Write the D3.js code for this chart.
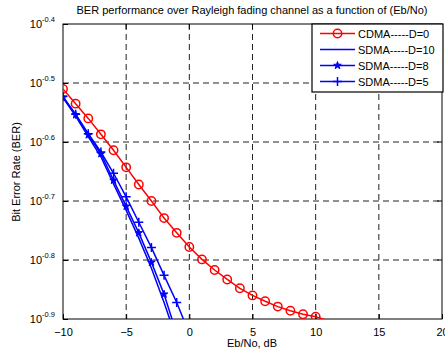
<!DOCTYPE html>
<html>
<head>
<meta charset="utf-8">
<script src="https://cdn.jsdelivr.net/npm/d3@7"></script>
<style>
  body { margin: 0; background: #fff; }
  svg { display: block; font-family: 'Liberation Sans', Arial, sans-serif; }
</style>
</head>
<body>
<div id="chart"></div>
<script>
// Eb/No in dB
const ebnoCdma = d3.range(-10, 12, 1)
const ebnoSdma10 = [-10, -9, -8, -7, -6, -5, -4, -3, -2, -1]
const ebnoSdma8 = [-10, -9, -8, -7, -6, -5, -4, -3, -2, -1]
const ebnoSdma5 = [-10, -9, -8, -7, -6, -5, -4, -3, -2, -1, 0]

// BER, as log10 exponents
const cdmaLog = [-0.510, -0.535, -0.560, -0.587, -0.614, -0.643, -0.672, -0.700, -0.729, -0.754,
  -0.778, -0.799, -0.817, -0.833, -0.848, -0.860, -0.870, -0.879, -0.886, -0.892, -0.896, -0.903]
const sdma10Log = [-0.525, -0.556, -0.591, -0.625, -0.671, -0.716, -0.763, -0.814, -0.872, -0.935]
const sdma8Log = [-0.524, -0.554, -0.588, -0.620, -0.665, -0.709, -0.754, -0.804, -0.858, -0.925]
const sdma5Log = [-0.523, -0.553, -0.586, -0.617, -0.653, -0.693, -0.736, -0.779, -0.826, -0.872, -0.925]

const xTicks = [-10, -5, 0, 5, 10, 15, 20]
const yExps = [-0.4, -0.5, -0.6, -0.7, -0.8, -0.9]
const seriesNames = ['CDMA-----D=0', 'SDMA-----D=10', 'SDMA-----D=8', 'SDMA-----D=5']

const W = 445, H = 350
const margin = { top: 24, right: 3, bottom: 31, left: 63 }
const iw = W - margin.left - margin.right
const ih = H - margin.top - margin.bottom

const svg = d3.select('#chart').append('svg')
  .attr('width', W).attr('height', H)

const x = d3.scaleLinear().domain([-10, 20]).range([0, iw])
const y = d3.scaleLog().domain([Math.pow(10, -0.9), Math.pow(10, -0.4)]).range([ih, 0])

const g = svg.append('g').attr('transform', `translate(${margin.left},${margin.top})`)

svg.append('defs').append('clipPath').attr('id', 'clip')
  .append('rect').attr('width', iw).attr('height', ih)

// grid
g.selectAll('line.gx').data(xTicks.slice(1, -1))
  .enter().append('line').attr('class', 'gx')
  .attr('x1', d => x(d)).attr('x2', d => x(d))
  .attr('y1', 0).attr('y2', ih)
g.selectAll('line.gy').data(yExps.slice(1, -1))
  .enter().append('line').attr('class', 'gy')
  .attr('x1', 0).attr('x2', iw)
  .attr('y1', d => y(Math.pow(10, d))).attr('y2', d => y(Math.pow(10, d)))
g.selectAll('line.gx, line.gy')
  .attr('stroke', '#222').attr('stroke-width', 1).attr('stroke-dasharray', '6,4')

// axes with inward ticks
const xAxis = d3.axisBottom(x).tickValues(xTicks).tickSize(-5).tickPadding(9)
  .tickFormat(d3.format('d'))
const yAxis = d3.axisLeft(y).tickValues(yExps.map(e => Math.pow(10, e))).tickSize(-5).tickPadding(9)
  .tickFormat('')

const gx = g.append('g').attr('transform', `translate(0,${ih})`).call(xAxis)
gx.select('.domain').remove()
gx.selectAll('text').attr('font-size', 11).attr('fill', '#000')
  .attr('font-family', "'Liberation Sans', Arial, sans-serif")
const gy = g.append('g').call(yAxis)
gy.select('.domain').remove()

// y tick labels 10^e
const yl = g.selectAll('text.ylab').data(yExps)
  .enter().append('text').attr('class', 'ylab')
  .attr('x', -8).attr('y', d => y(Math.pow(10, d)) + 4)
  .attr('text-anchor', 'end').attr('font-size', 11)
yl.append('tspan').text('10')
yl.append('tspan').attr('dy', -6).attr('font-size', 7.5).text(d => d.toFixed(1))

// box
g.append('rect').attr('width', iw).attr('height', ih)
  .attr('fill', 'none').attr('stroke', '#000').attr('stroke-width', 1)
// right and top ticks
g.selectAll('line.rt').data(yExps.slice(1, -1)).enter().append('line')
  .attr('x1', iw).attr('x2', iw - 5)
  .attr('y1', d => y(Math.pow(10, d))).attr('y2', d => y(Math.pow(10, d)))
  .attr('stroke', '#000')
g.selectAll('line.tt').data(xTicks.slice(1, -1)).enter().append('line')
  .attr('x1', d => x(d)).attr('x2', d => x(d))
  .attr('y1', 0).attr('y2', 5).attr('stroke', '#000')

const line = d3.line().x(d => x(d[0])).y(d => y(Math.pow(10, d[1])))
const zip = (a, b) => a.map((v, i) => [v, b[i]])

const series = [
  { name: seriesNames[0], pts: zip(ebnoCdma, cdmaLog), color: '#ff0000', marker: 'circle' },
  { name: seriesNames[1], pts: zip(ebnoSdma10, sdma10Log), color: '#0000ff', marker: 'none' },
  { name: seriesNames[2], pts: zip(ebnoSdma8, sdma8Log), color: '#0000ff', marker: 'star' },
  { name: seriesNames[3], pts: zip(ebnoSdma5, sdma5Log), color: '#0000ff', marker: 'plus' }
]

const drawMarker = (sel, type, color) => {
  if (type === 'circle') {
    sel.append('circle').attr('r', 4.2).attr('fill', 'none')
      .attr('stroke', color).attr('stroke-width', 1.5)
  } else if (type === 'star') {
    sel.append('path').attr('d', d3.symbol(d3.symbolStar, 18)())
      .attr('fill', color).attr('stroke', color).attr('stroke-width', 1)
  } else if (type === 'plus') {
    sel.append('path').attr('d', 'M-4.5,0H4.5M0,-4.5V4.5')
      .attr('stroke', color).attr('stroke-width', 1.5)
  }
}

const plot = g.append('g').attr('clip-path', 'url(#clip)')
series.forEach(s => {
  plot.append('path').datum(s.pts).attr('d', line)
    .attr('fill', 'none').attr('stroke', s.color).attr('stroke-width', 1.5)
  const inside = s.pts.filter(p => p[1] >= -0.9 && p[1] <= -0.4)
  const m = plot.selectAll(null).data(inside).enter().append('g')
    .attr('transform', d => `translate(${x(d[0])},${y(Math.pow(10, d[1]))})`)
  drawMarker(m, s.marker, s.color)
})

// legend
const lg = svg.append('g').attr('transform', 'translate(312,24)')
lg.append('rect').attr('width', 131).attr('height', 68)
  .attr('fill', '#fff').attr('stroke', '#000').attr('stroke-width', 1.2)
series.forEach((s, i) => {
  const yy = 9.5 + i * 16
  lg.append('line').attr('x1', 8).attr('x2', 43).attr('y1', yy).attr('y2', yy)
    .attr('stroke', s.color).attr('stroke-width', 1.5)
  const m = lg.append('g').attr('transform', `translate(25.5,${yy})`)
  drawMarker(m, s.marker, s.color)
  lg.append('text').attr('x', 46).attr('y', yy + 4).attr('font-size', 11).text(s.name)
})

// labels
svg.append('text').attr('x', 252).attr('y', 14).attr('text-anchor', 'middle')
  .attr('font-size', 11).text('BER performance over Rayleigh fading channel as a function of (Eb/No)')
svg.append('text').attr('x', 252).attr('y', 347).attr('text-anchor', 'middle')
  .attr('font-size', 11).text('Eb/No, dB')
svg.append('text').attr('transform', 'translate(20,172) rotate(-90)').attr('text-anchor', 'middle')
  .attr('font-size', 11).text('Bit Error Rate (BER)')
</script>
</body>
</html>
